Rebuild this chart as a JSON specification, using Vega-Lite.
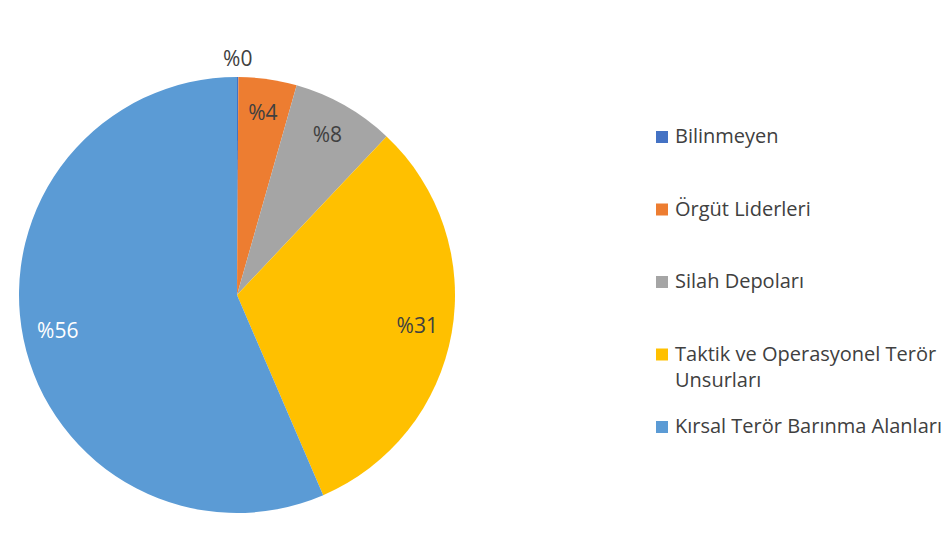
{
  "$schema": "https://vega.github.io/schema/vega-lite/v6.json",
  "autosize": {"type": "none"},
  "width": 474,
  "height": 488,
  "padding": {"top": 51, "left": 0, "right": 468, "bottom": 0},
  "background": "white",
  "config": {"view": {"stroke": null}, "font": "Open Sans"},
  "data": {
    "values": [
      {"category": "Bilinmeyen", "value": 0.1, "idx": 1},
      {"category": "Örgüt Liderleri", "value": 4.3, "idx": 2},
      {"category": "Silah Depoları", "value": 7.6, "idx": 3},
      {"category": "Taktik ve Operasyonel Terör Unsurları", "value": 31.4, "idx": 4},
      {"category": "Kırsal Terör Barınma Alanları", "value": 56.3, "idx": 5}
    ]
  },
  "transform": [
    {"stack": "value", "groupby": [], "sort": [{"field": "idx", "order": "ascending"}], "as": ["v0", "v1"]},
    {"calculate": "(datum.v0 + datum.v1) / 2", "as": "mid"},
    {"calculate": "'%' + format(datum.value, '.0f')", "as": "label"}
  ],
  "resolve": {"scale": {"theta": "shared"}},
  "layer": [
    {
      "mark": {"type": "arc", "outerRadius": 218},
      "encoding": {
        "theta": {"field": "v0", "type": "quantitative", "scale": {"domain": [0, 99.7], "zero": true, "nice": false}},
        "theta2": {"field": "v1"},
        "color": {
          "field": "category",
          "type": "nominal",
          "scale": {
            "domain": ["Bilinmeyen", "Örgüt Liderleri", "Silah Depoları", "Taktik ve Operasyonel Terör Unsurları", "Kırsal Terör Barınma Alanları"],
            "range": ["#4472C4", "#ED7D31", "#A5A5A5", "#FFC000", "#5B9BD5"]
          },
          "legend": {
            "title": null,
            "orient": "none",
            "legendX": 652,
            "legendY": 76,
            "symbolType": "square",
            "symbolSize": 144,
            "symbolStrokeWidth": 0,
            "labelFont": "Open Sans",
            "labelFontSize": 20,
            "labelColor": "#404040",
            "labelLimit": 500,
            "labelOffset": 3,
            "rowPadding": 26.5,
            "padding": 0,
            "labelExpr": "datum.label == 'Taktik ve Operasyonel Terör Unsurları' ? ['Taktik ve Operasyonel Terör', 'Unsurları'] : [datum.label, '']",
            "encode": {"labels": {"update": {"lineHeight": {"value": 26}}}}
          }
        }
      }
    },
    {
      "transform": [{"filter": "datum.category != 'Bilinmeyen'"}],
      "mark": {"type": "text", "fontSize": 21, "font": "Open Sans", "radius": 183},
      "encoding": {
        "theta": {"field": "mid", "type": "quantitative", "scale": {"domain": [0, 99.7], "zero": true, "nice": false}},
        "text": {"field": "label"},
        "color": {"condition": {"test": "datum.category == 'Kırsal Terör Barınma Alanları'", "value": "#ffffff"}, "value": "#404040"}
      }
    },
    {
      "transform": [{"filter": "datum.category == 'Bilinmeyen'"}],
      "mark": {"type": "text", "fontSize": 21, "font": "Open Sans", "radius": 235, "color": "#404040"},
      "encoding": {
        "theta": {"field": "mid", "type": "quantitative", "scale": {"domain": [0, 99.7], "zero": true, "nice": false}},
        "text": {"field": "label"}
      }
    }
  ]
}
